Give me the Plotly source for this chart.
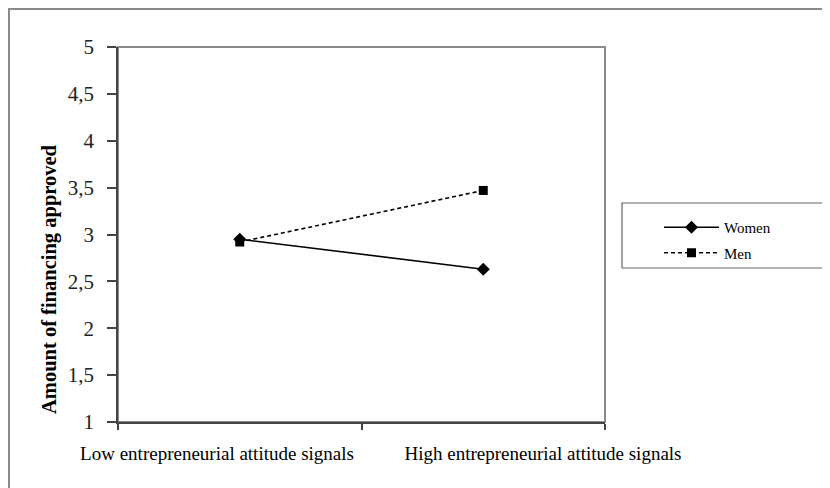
import plotly.graph_objects as go

categories = ["Low entrepreneurial attitude signals", "High entrepreneurial attitude signals"]
women = [2.95, 2.63]
men = [2.92, 3.47]
y_ticks = [1, 1.5, 2, 2.5, 3, 3.5, 4, 4.5, 5]
y_tick_labels = ["1", "1,5", "2", "2,5", "3", "3,5", "4", "4,5", "5"]
y_title = "Amount of financing approved"

FONT = "Liberation Serif, Times New Roman, serif"

OFF = 8  # page body margin
FW, FH = 830 - OFF, 488 - OFF
# plot area in screen pixels
SL, ST, SR, SB = 118, 47, 605, 422
L, T = SL - OFF, ST - OFF
W, H = SR - SL, SB - ST


def px(xs):
    return (xs - SL) / W


def py(ys):
    return (SB - ys) / H


fig = go.Figure()
fig.add_trace(go.Scatter(
    x=categories, y=women, name="Women", mode="lines+markers",
    line=dict(color="black", width=1.6),
    marker=dict(symbol="diamond", size=10, color="black"),
    legendgroup="w",
))
fig.add_trace(go.Scatter(
    x=categories, y=men, name="Men", mode="lines+markers",
    line=dict(color="black", width=1.6, dash="4px,3px"),
    marker=dict(symbol="square", size=9, color="black"),
    legendgroup="m",
))

# invisible trace to carry category label axis
fig.add_trace(go.Scatter(x=[0, 1], y=[1, 1], xaxis="x2", mode="markers",
                         marker=dict(opacity=0), showlegend=False, hoverinfo="skip"))

fig.update_layout(
    width=FW, height=FH,
    margin=dict(l=L, r=FW - L - W, t=T, b=FH - T - H),
    paper_bgcolor="white", plot_bgcolor="white",
    font=dict(family=FONT, color="black"),
    xaxis=dict(
        type="category", range=[-0.5, 1.5], tickson="boundaries",
        ticks="outside", ticklen=6, tickcolor="#444", tickwidth=1.5,
        showticklabels=False, showgrid=False, zeroline=False,
        showline=True, linecolor="#444", linewidth=1.5,
    ),
    xaxis2=dict(
        overlaying="x", range=[0, 1], tickmode="array",
        tickvals=[px(217), px(543)], ticktext=categories,
        ticks="", showgrid=False, zeroline=False, showline=False,
        tickfont=dict(size=19, family=FONT, color="black"),
        side="bottom", anchor="y", ticklabelstandoff=18,
    ),
    yaxis=dict(
        range=[1, 5], tickmode="array", tickvals=y_ticks, ticktext=y_tick_labels,
        ticks="outside", ticklen=9, tickcolor="#444", tickwidth=1.5,
        tickfont=dict(size=21, family=FONT, color="#222"),
        ticklabelstandoff=9,
        showgrid=False, zeroline=False,
        showline=True, linecolor="#444", linewidth=1.5,
    ),
    showlegend=True,
    legend=dict(
        x=px(659), y=py(211), xanchor="left", yanchor="top",
        bgcolor="rgba(0,0,0,0)", borderwidth=0,
        font=dict(family=FONT, size=15, color="black"),
        itemwidth=55, tracegroupgap=3,
    ),
    shapes=[
        # outer border (top & left visible)
        dict(type="rect", xref="paper", yref="paper",
             x0=px(9), x1=px(845), y0=py(500), y1=py(9),
             line=dict(color="#8a8a8a", width=2)),
        # plot frame top/right
        dict(type="rect", xref="paper", yref="paper",
             x0=0, x1=1, y0=0, y1=1,
             line=dict(color="#8a8a8a", width=2), layer="below"),
        # legend box
        dict(type="rect", xref="paper", yref="paper",
             x0=px(622), x1=px(845), y0=py(268), y1=py(203),
             line=dict(color="#666", width=1.2)),
    ],
    annotations=[
        dict(text="<b>" + y_title + "</b>", textangle=-90, xref="paper", yref="paper",
             x=px(49), y=py(279), xanchor="center", yanchor="middle", showarrow=False,
             font=dict(family=FONT, size=20.5, color="black")),
    ],
)

fig.write_html("out.html")
